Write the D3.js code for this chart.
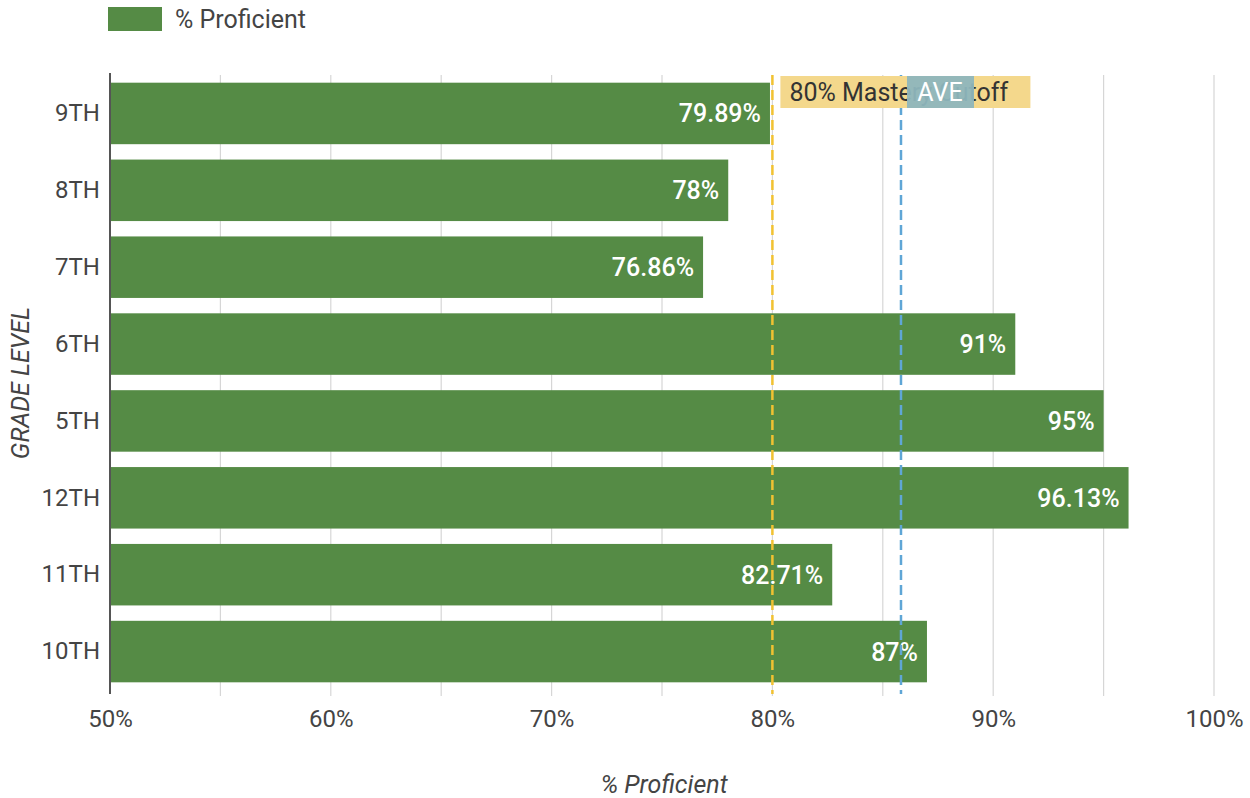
<!DOCTYPE html>
<html><head><meta charset="utf-8">
<script src="https://cdn.jsdelivr.net/npm/d3@7"></script>
<style>body{margin:0;background:#fff;font-family:Roboto,"Noto Sans",sans-serif;}</style>
</head><body><svg id="c" width="1250" height="798"></svg>
<script>
const categories = ["9TH","8TH","7TH","6TH","5TH","12TH","11TH","10TH"];
const values = [79.89, 78, 76.86, 91, 95, 96.13, 82.71, 87];
const valueLabels = ["79.89%","78%","76.86%","91%","95%","96.13%","82.71%","87%"];
const xTicks = [50,60,70,80,90,100];
const gridTicks = [50,55,60,65,70,75,80,85,90,95,100];
const masteryValue = 80;
const masteryLabel = "80% Mastery Cutoff";
const aveLabel = "AVE";
const seriesName = "% Proficient";
const xTitle = "% Proficient";
const yTitle = "GRADE LEVEL";

const svg = d3.select("#c");
const pLeft = 110, pRight = 1214, pTop = 75, pBottom = 690;
const x = d3.scaleLinear().domain([50,100]).range([pLeft,pRight]);
const y = d3.scaleBand().domain(categories).range([pTop,pBottom]).paddingInner(0.2).paddingOuter(0.1);
const green = "#558b45";
const textCol = "#444";

// grid
svg.append("g").selectAll("line").data(gridTicks.slice(1)).join("line")
  .attr("x1",d=>x(d)).attr("x2",d=>x(d)).attr("y1",pTop).attr("y2",pBottom+6)
  .attr("stroke","#d6d6d6").attr("stroke-width",1.2);

// bars
svg.append("g").selectAll("rect").data(values).join("rect")
  .attr("x",x(50)).attr("y",(d,i)=>y(categories[i]))
  .attr("width",d=>x(d)-x(50)).attr("height",y.bandwidth()).attr("fill",green);

// value labels
svg.append("g").selectAll("text").data(values).join("text")
  .attr("x",d=>x(d)-9).attr("y",(d,i)=>y(categories[i])+y.bandwidth()/2)
  .attr("dy","0.36em").attr("text-anchor","end").attr("fill","#fff")
  .attr("font-size",25).attr("font-weight",500).text((d,i)=>valueLabels[i]);

// reference lines
const avg = d3.mean(values);
svg.append("line").attr("x1",x(masteryValue)).attr("x2",x(masteryValue))
  .attr("y1",pTop).attr("y2",pBottom+4).attr("stroke","#f1c232").attr("stroke-width",2.5)
  .attr("stroke-dasharray","10,5");
svg.append("line").attr("x1",x(avg)).attr("x2",x(avg))
  .attr("y1",pTop).attr("y2",pBottom+4).attr("stroke","#5fa6d6").attr("stroke-width",2.5)
  .attr("stroke-dasharray","10,5");

// annotation boxes
const mx = x(masteryValue)+8;
svg.append("rect").attr("x",mx).attr("y",76).attr("width",250).attr("height",32)
  .attr("fill","#f4d88c");
svg.append("text").attr("x",mx+9).attr("y",92).attr("dy","0.36em")
  .attr("font-size",25).attr("fill","#333").text(masteryLabel);
const ax = x(avg)+6;
svg.append("rect").attr("x",ax).attr("y",76).attr("width",67).attr("height",32)
  .attr("fill","#8eb6bd").attr("fill-opacity",0.95);
svg.append("text").attr("x",ax+33).attr("y",92).attr("dy","0.36em").attr("text-anchor","middle")
  .attr("font-size",25).attr("fill","#fff").text(aveLabel);

// y axis line
svg.append("line").attr("x1",pLeft).attr("x2",pLeft).attr("y1",pTop-2).attr("y2",pBottom+4)
  .attr("stroke","#555").attr("stroke-width",2);

// x tick labels
const xa = svg.append("g").attr("transform",`translate(0,${pBottom})`)
  .call(d3.axisBottom(x).tickValues(xTicks).tickFormat(d=>d+"%").tickSize(0).tickPadding(20));
xa.select(".domain").remove();
xa.selectAll("text").attr("font-size",24).attr("fill",textCol).attr("font-family","Roboto,sans-serif");

// y tick labels
const ya = svg.append("g").attr("transform",`translate(${pLeft},0)`)
  .call(d3.axisLeft(y).tickSize(0).tickPadding(10));
ya.select(".domain").remove();
ya.selectAll("text").attr("font-size",24).attr("fill",textCol).attr("font-family","Roboto,sans-serif");

// axis titles
svg.append("text").attr("x",664).attr("y",784).attr("dy","0.36em").attr("text-anchor","middle")
  .attr("font-size",25).attr("font-style","italic").attr("fill",textCol).text(xTitle);
svg.append("text").attr("transform","translate(20,383) rotate(-90)").attr("dy","0.36em")
  .attr("text-anchor","middle").attr("font-size",25).attr("font-style","italic").attr("fill",textCol).text(yTitle);

// legend
svg.append("rect").attr("x",108).attr("y",7).attr("width",54).attr("height",24).attr("fill",green);
svg.append("text").attr("x",175).attr("y",19).attr("dy","0.36em").attr("font-size",25)
  .attr("fill",textCol).text(seriesName);
</script></body></html>
